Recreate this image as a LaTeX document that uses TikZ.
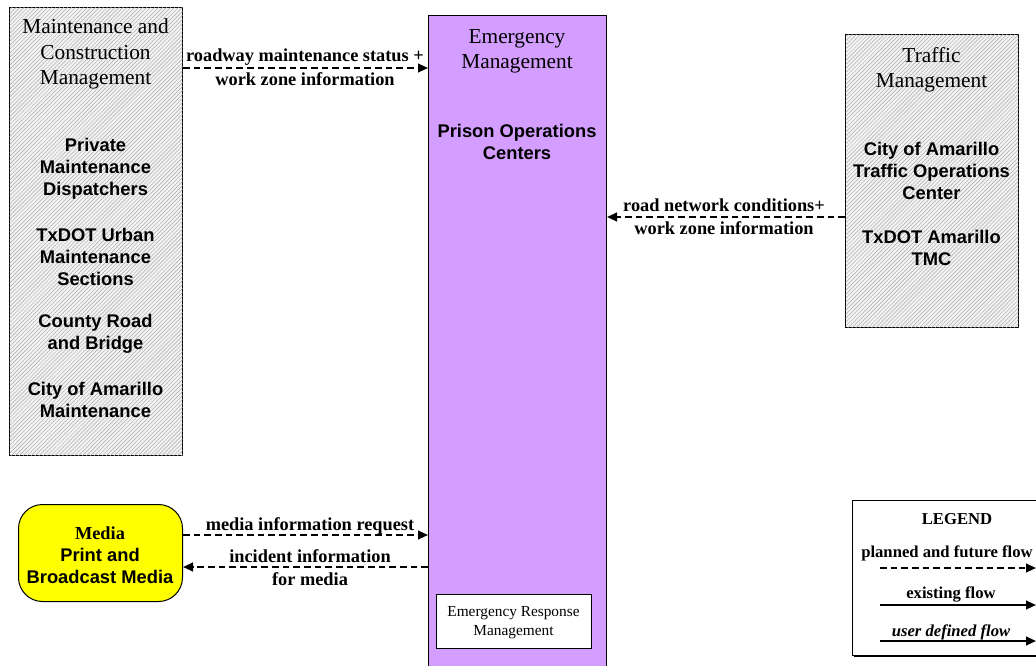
\documentclass[tikz,border=0pt]{standalone}
\usepackage{fontspec}
\setmainfont{Liberation Serif}
\setsansfont{Liberation Sans}
\usetikzlibrary{arrows.meta,patterns.meta,shadows}

\definecolor{empurple}{RGB}{211,158,255}
\definecolor{hatchbg}{RGB}{243,243,243}
\definecolor{hatchln}{RGB}{168,168,168}
\definecolor{mediayellow}{RGB}{255,255,0}

\tikzset{
  basebox/.style={draw=black, line width=0.75pt, anchor=north west, inner sep=0pt},
  hatched/.style={basebox, fill=hatchbg,
    postaction={pattern={Lines[angle=45,distance=2.1pt,line width=0.35pt]}, pattern color=hatchln}},
  titletext/.style={font=\fontsize{16pt}{19pt}\selectfont, align=center, inner sep=0pt},
  elemtext/.style={font=\fontsize{13.75pt}{16.5pt}\selectfont\sffamily\bfseries, align=center, inner sep=0pt},
  flowlbl/.style={font=\fontsize{13.75pt}{16.5pt}\selectfont\bfseries, align=center, inner sep=0pt},
  legendlbl/.style={font=\fontsize{12.5pt}{15pt}\selectfont\bfseries, align=center, inner sep=0pt},
  flowarrow/.style={line width=1.5pt, -{Triangle[length=7.5pt,width=6.5pt]}},
  planned/.style={flowarrow, dash pattern=on 5pt off 3pt},
}

\begin{document}
\begin{tikzpicture}[x=0.75pt, y=-0.75pt]
\useasboundingbox (0,0) rectangle (1036,665);
\clip (0,0) rectangle (1036,665);

% Boxes
\node[hatched, minimum width=173*0.75pt, minimum height=448*0.75pt] (mcm) at (9,7) {};
\node[basebox, fill=empurple, minimum width=178*0.75pt, minimum height=660*0.75pt] (em) at (428,15) {};
\node[hatched, minimum width=173*0.75pt, minimum height=293*0.75pt] (tm) at (845,34) {};
\node[basebox, fill=mediayellow, rounded corners=18pt, minimum width=164*0.75pt, minimum height=97*0.75pt] (media) at (18,504) {};
\node[basebox, fill=white, minimum width=155*0.75pt, minimum height=54*0.75pt] (erm) at (436,594) {};
\node[basebox, fill=white, drop shadow={shadow xshift=1.2pt, shadow yshift=-1.2pt, fill=black, opacity=1}, minimum width=210*0.75pt, minimum height=155*0.75pt] (legend) at (852,500) {};

% Maintenance and Construction Management
\node[titletext] (mcmtitle) at (95.5,54) {Maintenance and\\Construction\\Management};
\node[elemtext] (mcm1) at (95.5,169) {Private\\Maintenance\\Dispatchers};
\node[elemtext] (mcm2) at (95.5,257) {TxDOT Urban\\Maintenance\\Sections};
\node[elemtext] (mcm3) at (95.5,334) {County Road\\and Bridge};
\node[elemtext] (mcm4) at (95.5,400) {City of Amarillo\\Maintenance};

% Emergency Management
\node[titletext] (emtitle) at (517,51) {Emergency\\Management};
\node[elemtext] (em1) at (517,142) {Prison Operations\\Centers};
\node[font=\fontsize{11.5pt}{14.25pt}\selectfont, align=center, inner sep=0pt] (ermtext) at (513.5,623) {Emergency Response\\Management};

% Traffic Management
\node[titletext] (tmtitle) at (931.5,69.5) {Traffic\\Management};
\node[elemtext] (tm1) at (931.5,171) {City of Amarillo\\Traffic Operations\\Center};
\node[elemtext] (tm2) at (931.5,248) {TxDOT Amarillo\\TMC};

% Media
\node[align=center, inner sep=0pt, font=\fontsize{13.75pt}{16.5pt}\selectfont] (mediatext) at (100,555)
  {\bfseries Media\\\sffamily\bfseries Print and\\\sffamily\bfseries Broadcast Media};

% Flows
\draw[planned] (mcm.east |- 0,68) -- (em.west |- 0,68);
\node[flowlbl] (f1a) at (305,57) {roadway maintenance status +};
\node[flowlbl] (f1b) at (305,79.5) {work zone information};

\draw[planned] (tm.west |- 0,217) -- (em.east |- 0,217);
\node[flowlbl] (f2a) at (724,205.5) {road network conditions+};
\node[flowlbl] (f2b) at (724,228) {work zone information};

\draw[planned] (media.east |- 0,535) -- (em.west |- 0,535);
\node[flowlbl] (f3a) at (310,525.5) {media information request};

\draw[planned] (em.west |- 0,567) -- (media.east |- 0,567);
\node[flowlbl] (f4a) at (310,556.5) {incident information};
\node[flowlbl] (f4b) at (310,579) {for media};

% Legend
\node[font=\fontsize{12.5pt}{15pt}\selectfont\bfseries, inner sep=0pt] (legtitle) at (957,519) {LEGEND};
\node[legendlbl] (leg1) at (947,553) {planned and future flow};
\node[legendlbl] (leg2) at (951,594.5) {existing flow};
\node[legendlbl, font=\fontsize{12.5pt}{15pt}\selectfont\bfseries\itshape] (leg3) at (951,632.5) {user defined flow};
\coordinate (lg1s) at (880,568);
\coordinate (lg1e) at (1036,568);
\coordinate (lg2s) at (880,605);
\coordinate (lg2e) at (1036,605);
\coordinate (lg3s) at (880,641);
\coordinate (lg3e) at (1036,641);
\draw[planned] (lg1s) -- (lg1e);
\draw[flowarrow] (lg2s) -- (lg2e);
\draw[flowarrow] (lg3s) -- (lg3e);
\end{tikzpicture}
\end{document}
